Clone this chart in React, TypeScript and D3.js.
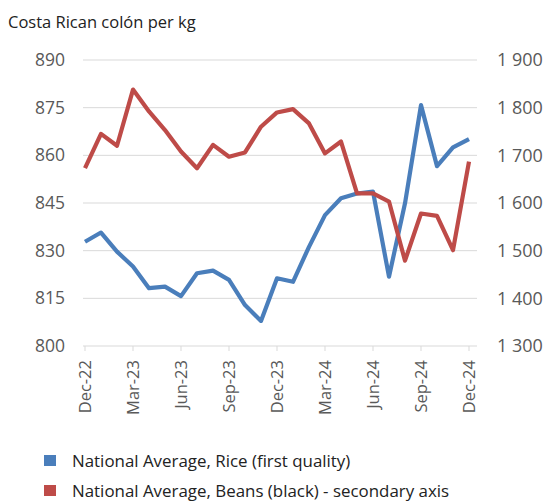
import React from "react";
import * as d3 from "d3";

const months: string[] = [
  "Dec-22","Jan-23","Feb-23","Mar-23","Apr-23","May-23","Jun-23","Jul-23","Aug-23","Sep-23","Oct-23","Nov-23",
  "Dec-23","Jan-24","Feb-24","Mar-24","Apr-24","May-24","Jun-24","Jul-24","Aug-24","Sep-24","Oct-24","Nov-24","Dec-24",
];
const rice: number[] = [832.8,835.7,829.7,825,818.2,818.7,815.7,822.9,823.7,820.8,812.9,807.9,821.3,820.2,831.2,841.2,846.5,848,848.6,821.8,844.9,875.8,856.6,862.5,865.1];
const beans: number[] = [1673,1745,1720,1838,1792,1753,1708,1673,1722,1697,1706,1760,1790,1797,1767,1704,1729,1620,1620,1603,1479,1578,1573,1501,1687];
const leftTicks: number[] = [800,815,830,845,860,875,890];
const rightTicks: number[] = [1300,1400,1500,1600,1700,1800,1900];
const xTickLabels: string[] = ["Dec-22","Mar-23","Jun-23","Sep-23","Dec-23","Mar-24","Jun-24","Sep-24","Dec-24"];
const legendLabels: string[] = ["National Average, Rice (first quality)","National Average, Beans (black) - secondary axis"];
const colors = ["#4a7ebb", "#be4b48"];

export default function App() {
  const W = 547, H = 502;
  const x = d3.scaleLinear().domain([0, months.length - 1]).range([85, 469]);
  const yL = d3.scaleLinear().domain([800, 890]).range([346, 60]);
  const yR = d3.scaleLinear().domain([1300, 1900]).range([346, 60]);
  const lineL = d3.line<number>().x((_, i) => x(i)).y((d) => yL(d));
  const lineR = d3.line<number>().x((_, i) => x(i)).y((d) => yR(d));
  const font = "'Open Sans', sans-serif";
  const gray = "#595959";
  return (
    <svg width={W} height={H} style={{ position: "absolute", left: 0, top: 0, background: "#fff" }} fontFamily={font}>
      <text x={8} y={28} fontSize={16.5} fill="#222">Costa Rican colón per kg</text>
      {leftTicks.map((t) => (
        <g key={"l" + t}>
          <line x1={83} x2={477} y1={yL(t)} y2={yL(t)} stroke="#d9d9d9" strokeWidth={1} />
          <text x={65} y={yL(t)} dy="0.35em" textAnchor="end" fontSize={17.5} fill={gray}>{t}</text>
        </g>
      ))}
      {rightTicks.map((t) => (
        <text key={"r" + t} x={497} y={yR(t)} dy="0.35em" textAnchor="start" fontSize={18} fill={gray}>
          {d3.format(",")(t).replace(",", " ")}
        </text>
      ))}
      {xTickLabels.map((lab) => {
        const i = months.indexOf(lab);
        const xx = x(i);
        return (
          <g key={lab}>
            <line x1={xx} x2={xx} y1={346} y2={351} stroke="#d9d9d9" />
            <text transform={`translate(${xx},${360}) rotate(-90)`} dy="0.35em" textAnchor="end" fontSize={16.5} fill={gray}>{lab}</text>
          </g>
        );
      })}
      <path d={lineL(rice) || ""} fill="none" stroke={colors[0]} strokeWidth={4.2} strokeLinejoin="round" />
      <path d={lineR(beans) || ""} fill="none" stroke={colors[1]} strokeWidth={4.2} strokeLinejoin="round" />
      {legendLabels.map((lab, i) => (
        <g key={lab}>
          <rect x={44} y={455 + i * 30} width={12} height={11} fill={colors[i]} />
          <text x={72} y={467 + i * 30} fontSize={16.9} fill="#222">{lab}</text>
        </g>
      ))}
    </svg>
  );
}
